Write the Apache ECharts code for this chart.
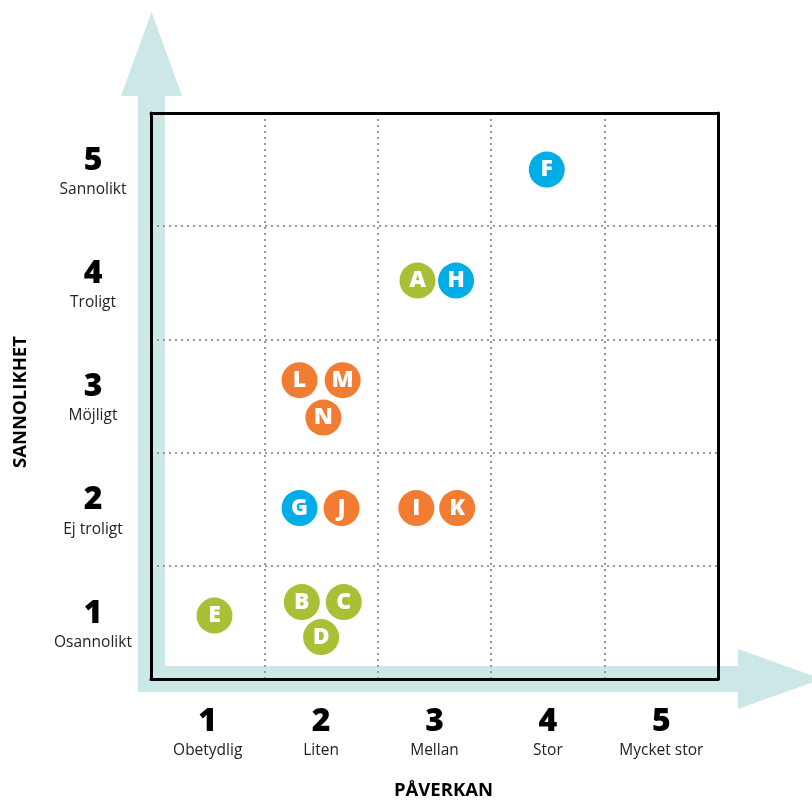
<!DOCTYPE html>
<html>
<head>
<meta charset="utf-8">
<script src="https://cdn.jsdelivr.net/npm/echarts@6/dist/echarts.min.js"></script>
<style>
  html, body { margin: 0; padding: 0; background: #fff; }
  #main { width: 812px; height: 803px; }
</style>
</head>
<body>
<div id="main"></div>
<script>
// axis categories
const impactNums = ['1', '2', '3', '4', '5']
const impactNames = ['Obetydlig', 'Liten', 'Mellan', 'Stor', 'Mycket stor']
const likelihoodNums = ['1', '2', '3', '4', '5']
const likelihoodNames = ['Osannolikt', 'Ej troligt', 'Möjligt', 'Troligt', 'Sannolikt']

// risks (position inside the 0..5 matrix)
const letters = ['A', 'B', 'C', 'D', 'E', 'F', 'G', 'H', 'I', 'J', 'K', 'L', 'M', 'N']
const impactPos = [2.35, 1.33, 1.70, 1.50, 0.56, 3.49, 1.31, 2.69, 2.34, 1.68, 2.70, 1.31, 1.69, 1.52]
const likelihoodPos = [3.52, 0.68, 0.68, 0.37, 0.56, 4.50, 1.51, 3.52, 1.51, 1.51, 1.51, 2.64, 2.64, 2.31]
const groups = ['green', 'green', 'green', 'green', 'green', 'blue', 'blue', 'blue',
  'orange', 'orange', 'orange', 'orange', 'orange', 'orange']

const colors = { green: '#a8bf36', blue: '#00ade6', orange: '#f27d32' }
const teal = '#cbe8e6'
const font = '"Open Sans", sans-serif'

var myChart = echarts.init(document.getElementById('main'))

const seriesFor = (g) => ({
  type: 'scatter',
  xAxisIndex: 1,
  yAxisIndex: 1,
  z: 20,
  symbolSize: 36,
  itemStyle: { color: colors[g], opacity: 1 },
  label: {
    show: true,
    position: 'inside',
    formatter: (p) => p.data[2],
    color: '#fff',
    fontSize: 23,
    fontWeight: 900,
    fontFamily: font
  },
  data: letters.map((l, i) => [impactPos[i], likelihoodPos[i], l, groups[i]]).filter((d) => d[3] === g)
})

const labelRich = {
  n: { fontSize: 32, fontWeight: 900, color: '#000', lineHeight: 34, fontFamily: font, align: 'center' },
  t: { fontSize: 15.5, color: '#222', lineHeight: 24, fontFamily: font, align: 'center' }
}

var option = {
  animation: false,
  grid: { left: 151, top: 113, right: 94, bottom: 124, outerBoundsMode: 'none', containLabel: false },
  graphic: [
    {
      type: 'polygon',
      z: -10,
      shape: {
        points: [[121, 96], [151.5, 12], [182, 96], [165, 96], [165, 666], [738, 666], [738, 649],
          [822, 679], [738, 709], [738, 692], [138, 692], [138, 96]]
      },
      style: { fill: teal }
    }
  ],
  xAxis: [
    {
      type: 'category',
      data: impactNums,
      z: 10,
      name: 'PÅVERKAN',
      nameLocation: 'middle',
      nameGap: 102,
      nameTextStyle: { fontSize: 18.5, fontWeight: 'bold', color: '#000', fontFamily: font, padding: [0, 0, 0, 18] },
      axisLine: { lineStyle: { color: '#000', width: 3 } },
      axisTick: { show: false },
      splitLine: { show: true, interval: 0, lineStyle: { color: '#999', width: 2, type: [2, 4] } },
      axisLabel: {
        interval: 0,
        margin: 26,
        formatter: (v, i) => '{n|' + v + '}\n{t|' + impactNames[i] + '}',
        rich: labelRich
      }
    },
    {
      type: 'value',
      min: 0,
      max: 5,
      position: 'top',
      z: 10,
      axisLine: { show: true, lineStyle: { color: '#000', width: 3 } },
      axisTick: { show: false },
      axisLabel: { show: false },
      splitLine: { show: false }
    }
  ],
  yAxis: [
    {
      type: 'category',
      data: likelihoodNums,
      z: 10,
      name: 'SANNOLIKHET',
      nameLocation: 'middle',
      nameGap: 121,
      nameRotate: 90,
      nameTextStyle: { fontSize: 18.5, fontWeight: 'bold', color: '#000', fontFamily: font, padding: [0, 12, 0, 0] },
      axisLine: { lineStyle: { color: '#000', width: 3 } },
      axisTick: { show: false },
      splitLine: { show: true, interval: 0, lineStyle: { color: '#999', width: 2, type: [2, 4] } },
      axisLabel: {
        interval: 0,
        margin: 58,
        align: 'center',
        padding: [6, 0, 0, 0],
        formatter: (v, i) => '{n|' + v + '}\n{t|' + likelihoodNames[i] + '}',
        rich: labelRich
      }
    },
    {
      type: 'value',
      min: 0,
      max: 5,
      position: 'right',
      z: 10,
      axisLine: { show: true, lineStyle: { color: '#000', width: 3 } },
      axisTick: { show: false },
      axisLabel: { show: false },
      splitLine: { show: false }
    }
  ],
  series: ['green', 'blue', 'orange'].map(seriesFor)
}

option && myChart.setOption(option)
</script>
</body>
</html>
